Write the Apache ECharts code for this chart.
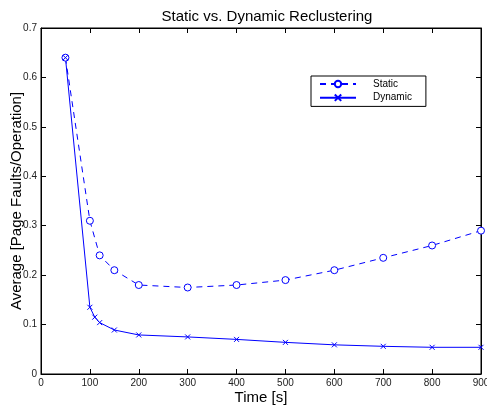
<!DOCTYPE html>
<html>
<head>
<meta charset="utf-8">
<script src="https://cdn.jsdelivr.net/npm/echarts@6/dist/echarts.min.js"></script>
<style>html,body{margin:0;padding:0;background:#fff;}#c{width:487px;height:409px;}</style>
</head>
<body>
<div id="c"></div>
<script>
var title = 'Static vs. Dynamic Reclustering';
var xName = 'Time [s]';
var yName = 'Average [Page Faults/Operation]';
var staticX = [50, 100, 120, 150, 200, 300, 400, 500, 600, 700, 800, 900];
var staticY = [0.64, 0.31, 0.24, 0.21, 0.18, 0.175, 0.18, 0.19, 0.21, 0.235, 0.26, 0.29];
var dynamicX = [50, 100, 110, 120, 150, 200, 300, 400, 500, 600, 700, 800, 900];
var dynamicY = [0.64, 0.135, 0.115, 0.104, 0.089, 0.079, 0.075, 0.07, 0.064, 0.059, 0.056, 0.054, 0.054];

function pairs(xs, ys){ return xs.map(function(x,i){ return [x, ys[i]]; }); }

var font = 'Liberation Sans, Arial, Helvetica, sans-serif';
var chart = echarts.init(document.getElementById('c'), null, {renderer: 'canvas'});
function axisCommon(){ return {
  show: true,
  axisLine: {show: true, onZero: false, lineStyle: {color: '#000', width: 1}},
  axisTick: {show: true, inside: true, length: 5, lineStyle: {color: '#000', width: 1}},
  splitLine: {show: false}
};}
chart.setOption({
  animation: false,
  backgroundColor: '#fff',
  title: {text: title, left: 262, textAlign: 'center', top: 4,
    textStyle: {fontFamily: font, fontSize: 15, fontWeight: 'normal', color: '#000'}},
  grid: [{left: 41, right: 6, top: 28, bottom: 35, containLabel: false, outerBoundsMode: 'none',
    show: true, borderColor: '#000', borderWidth: 1, backgroundColor: 'rgba(0,0,0,0)'}],
  legend: {
    left: 311, top: 76,
    orient: 'vertical', itemGap: 3, itemWidth: 36, itemHeight: 8,
    padding: [3, 14, 3, 8],
    borderColor: '#000', borderWidth: 1, backgroundColor: '#fff',
    textStyle: {fontFamily: font, fontSize: 10, color: '#000', padding: [0,0,0,12]},
    data: ['Static', 'Dynamic']
  },
  xAxis: [
    Object.assign({type: 'value', gridIndex: 0, min: 0, max: 900, interval: 100, position: 'bottom',
      name: xName, nameLocation: 'middle', nameGap: 16, nameMoveOverlap: false,
      nameTextStyle: {fontFamily: font, fontSize: 15, color: '#000'},
      axisLabel: {fontFamily: font, fontSize: 10, color: '#222', margin: 4}}, axisCommon()),
    Object.assign({type: 'value', gridIndex: 0, min: 0, max: 900, interval: 100, position: 'top',
      axisLabel: {show: false}}, axisCommon())
  ],
  yAxis: [
    Object.assign({type: 'value', gridIndex: 0, min: 0, max: 0.7, interval: 0.1, position: 'left',
      name: yName, nameLocation: 'middle', nameGap: 17, nameMoveOverlap: false,
      nameTextStyle: {fontFamily: font, fontSize: 15, color: '#000'},
      axisLabel: {fontFamily: font, fontSize: 10, color: '#222', margin: 4}}, axisCommon()),
    Object.assign({type: 'value', gridIndex: 0, min: 0, max: 0.7, interval: 0.1, position: 'right',
      axisLabel: {show: false}}, axisCommon())
  ],
  series: [
    {name: 'Static', type: 'line', data: pairs(staticX, staticY),
      symbol: 'circle', symbolSize: 7, showAllSymbol: true,
      lineStyle: {color: '#0000ff', width: 1, type: [6, 5]},
      itemStyle: {color: '#ffffff', borderColor: '#0000ff', borderWidth: 1}},
    {name: 'Dynamic', type: 'line', data: pairs(dynamicX, dynamicY),
      symbol: 'path://M0,0L10,10M10,0L0,10', symbolSize: 5, showAllSymbol: true,
      lineStyle: {color: '#0000ff', width: 1},
      itemStyle: {color: 'none', borderColor: '#0000ff', borderWidth: 1}},
    {name: 'axisAnchor', type: 'line', xAxisIndex: 1, yAxisIndex: 1, data: [[0, 0]],
      silent: true, showSymbol: false, lineStyle: {opacity: 0}}
  ]
});
</script>
</body>
</html>
